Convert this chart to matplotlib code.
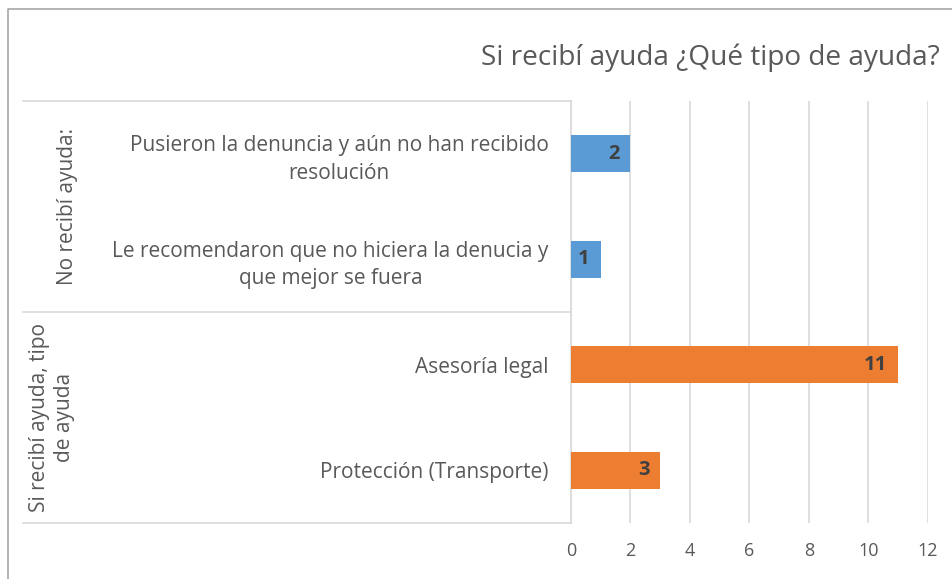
import matplotlib
matplotlib.use("Agg")
import matplotlib.pyplot as plt
from matplotlib.lines import Line2D
from matplotlib import transforms

plt.rcParams['font.family'] = ['Open Sans', 'DejaVu Sans']

# data, top to bottom
categories = [
    "Pusieron la denuncia y aún no han recibido\nresolución",
    "Le recomendaron que no hiciera la denucia y\nque mejor se fuera",
    "Asesoría legal",
    "Protección (Transporte)",
]
values = [2, 1, 11, 3]
groups = ["No recibí ayuda:", "Si recibí ayuda, tipo\nde ayuda"]
group_sizes = [2, 2]
group_colors = ["#5B9BD5", "#ED7D31"]
x_ticks = [0, 2, 4, 6, 8, 10, 12]
title = "Si recibí ayuda ¿Qué tipo de ayuda?"

W, H = 953, 579
fig = plt.figure(figsize=(W / 100, H / 100), dpi=100)

# outer chart border (left and top visible)
fig.add_artist(Line2D([8 / W, 8 / W, 1], [0, 1 - 9 / H, 1 - 9 / H],
                      transform=fig.transFigure, color="#A6A6A6", lw=1.2))

left, right, top, bottom = 571, 928, 101, 523
ax = fig.add_axes([left / W, 1 - bottom / H, (right - left) / W, (bottom - top) / H])

n = len(categories)
ypos = list(range(n - 1, -1, -1))
colors = []
for c, s in zip(group_colors, group_sizes):
    colors += [c] * s

ax.barh(ypos, values, height=0.35, color=colors, zorder=3)
ax.set_ylim(-0.5, n - 0.5)
ax.set_xlim(x_ticks[0], x_ticks[-1])
ax.set_xticks(x_ticks)
ax.set_xticklabels([str(t) for t in x_ticks], fontsize=13, color="#595959")
ax.tick_params(axis='x', length=0, pad=14)
ax.grid(axis='x', color="#D9D9D9", lw=1.2, zorder=0)
for side in ['top', 'right', 'bottom']:
    ax.spines[side].set_visible(False)
ax.spines['left'].set_color("#D9D9D9")
ax.spines['left'].set_linewidth(1.2)

ax.set_yticks(ypos)
ax.set_yticklabels(categories, fontsize=15, color="#595959",
                   multialignment='center', linespacing=1.4)
ax.tick_params(axis='y', length=0, pad=16)

# data labels, inside end
off = transforms.offset_copy(ax.transData, fig=fig, x=-11, y=0, units='dots')
for y, v in zip(ypos, values):
    ax.text(v, y, str(v), ha='right', va='center', transform=off,
            fontsize=14.5, fontweight='bold', color="#404040", zorder=4)

# group separator lines
x0 = (23 - left) / (right - left)
bounds = [1.0]
acc = 0
for s in group_sizes:
    acc += s
    bounds.append(1 - acc / n)
for b in bounds:
    ax.add_artist(Line2D([x0, 0], [b, b], transform=ax.transAxes,
                         color="#D9D9D9", lw=1.2, clip_on=False))

# group labels
fig.text(68 / W, 1 - 206 / H, groups[0], rotation=90, ha='center', va='center',
         fontsize=15, color="#595959")
fig.text(52 / W, 1 - 417 / H, groups[1], rotation=90, ha='center', va='center',
         fontsize=15, color="#595959", multialignment='center', linespacing=1.3)

fig.text(940 / W, 1 - 58 / H, title, ha='right', va='center', fontsize=20.2, color="#595959")

fig.savefig("out.png", dpi=100)
